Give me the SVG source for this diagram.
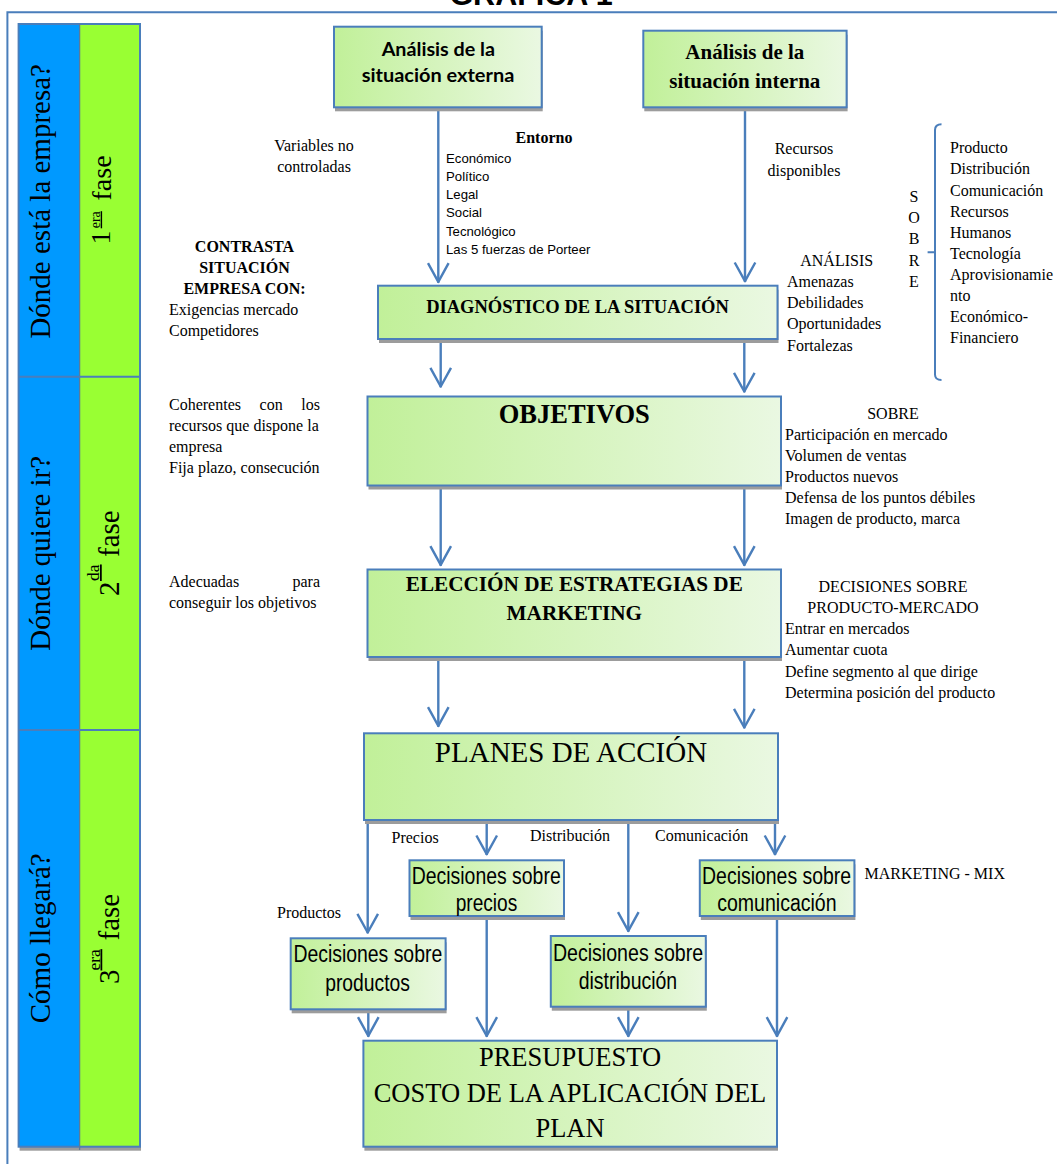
<svg xmlns="http://www.w3.org/2000/svg" width="1057" height="1164" viewBox="0 0 1057 1164">
<defs>
<linearGradient id="g" x1="0" y1="0" x2="1" y2="0">
<stop offset="0" stop-color="#c1f099"/>
<stop offset="1" stop-color="#eaf8e2"/>
</linearGradient>
<marker id="arr" markerUnits="userSpaceOnUse" markerWidth="30" markerHeight="30" viewBox="-25 -15 30 30" refX="0" refY="0" orient="auto" overflow="visible">
<path d="M-19.5,-10.3 L-0.8,0 L-19.5,10.3" fill="none" stroke="#4a7ebb" stroke-width="2.4" stroke-linejoin="round"/>
</marker>
<style>
.box{fill:url(#g);stroke:#4a7ebb;stroke-width:2}
.sh{fill:#9c9c9c}
.con{fill:none;stroke:#4a7ebb;stroke-width:2.4;marker-end:url(#arr)}
.t{font-family:"Liberation Serif","Times New Roman",serif;fill:#000}
.s16{font-size:16px}
.b{font-weight:bold}
.m{text-anchor:middle}
.e{text-anchor:end}
.a{font-family:"Liberation Sans",Arial,sans-serif}
.c{font-family:Lato,"Liberation Sans",sans-serif;font-weight:bold;font-size:19.5px}
.n{font-family:"Liberation Sans",Arial,sans-serif;font-size:23px}
</style>
</defs>
<rect width="1057" height="1164" fill="#fff"/>
<text x="531" y="5" class="a b m" style="font-size:30.5px">GRÁFICA 1</text>
<g id="frame" fill="none" stroke="#4a7ebb" stroke-width="2">
<path d="M1057,12.3 L7.4,12.3 L7.4,1164"/>
</g>
<g id="phases">
<rect x="19.6" y="28" width="121.4" height="1122.7" class="sh"/>
<rect x="18.6" y="24" width="61" height="1122.7" fill="#0099ff"/>
<rect x="79.6" y="24" width="60.4" height="1122.7" fill="#99ff33"/>
<rect x="18.6" y="24" width="121.4" height="1122.7" fill="none" stroke="#4a7ebb" stroke-width="2"/>
<line x1="79.6" y1="24" x2="79.6" y2="1150" stroke="#5d7a99" stroke-width="1.3"/>
<line x1="18.6" y1="376.7" x2="140" y2="376.7" stroke="#4a7ebb" stroke-width="2"/>
<line x1="18.6" y1="730" x2="140" y2="730" stroke="#4a7ebb" stroke-width="2"/>
<text class="t m" style="font-size:29px" transform="translate(49.7,201.3) rotate(-90)">Dónde está la empresa?</text>
<text class="t m" style="font-size:29px" transform="translate(49.7,553.3) rotate(-90)">Dónde quiere ir?</text>
<text class="t m" style="font-size:29px" transform="translate(49.7,938.3) rotate(-90)">Cómo llegará?</text>
<text class="t" style="font-size:28px" transform="translate(110,244.5) rotate(-90)">1</text>
<text class="t" style="font-size:14px" text-decoration="underline" transform="translate(99.7,228.3) rotate(-90)">era</text>
<text class="t" style="font-size:28px" transform="translate(110.5,200.5) rotate(-90)">fase</text>
<text class="t" style="font-size:29px" transform="translate(118.5,596) rotate(-90)">2</text>
<text class="t" style="font-size:17.5px" text-decoration="underline" transform="translate(99,581) rotate(-90)">da</text>
<text class="t" style="font-size:29px" transform="translate(118.5,557) rotate(-90)">fase</text>
<text class="t" style="font-size:29px" transform="translate(118.5,984) rotate(-90)">3</text>
<text class="t" style="font-size:17.5px" text-decoration="underline" transform="translate(99.5,970.5) rotate(-90)">era</text>
<text class="t" style="font-size:29px" transform="translate(118.5,940.5) rotate(-90)">fase</text>
</g>
<g id="connectors">
<line class="con" x1="438.3" y1="107.3" x2="438.3" y2="282.7"/>
<line class="con" x1="745" y1="107.3" x2="745" y2="282"/>
<line class="con" x1="440.7" y1="339" x2="440.7" y2="387.3"/>
<line class="con" x1="744.3" y1="339" x2="744.3" y2="392.3"/>
<line class="con" x1="440.7" y1="485.5" x2="440.7" y2="565.7"/>
<line class="con" x1="744.3" y1="485.5" x2="744.3" y2="565.7"/>
<line class="con" x1="438.3" y1="657" x2="438.3" y2="726.7"/>
<line class="con" x1="744.3" y1="657" x2="744.3" y2="728.3"/>
<line class="con" x1="367.7" y1="820" x2="367.7" y2="933.3"/>
<line class="con" x1="486.7" y1="820" x2="486.7" y2="855"/>
<line class="con" x1="628.3" y1="820" x2="628.3" y2="931.7"/>
<line class="con" x1="775" y1="820" x2="775" y2="855"/>
<line class="con" x1="368.3" y1="1009.3" x2="368.3" y2="1036.7"/>
<line class="con" x1="486.7" y1="916" x2="486.7" y2="1036.7"/>
<line class="con" x1="628.3" y1="1006.7" x2="628.3" y2="1036.7"/>
<line class="con" x1="777" y1="916" x2="777" y2="1036.7"/>
</g>
<g id="ext">
<rect x="335" y="30.7" width="207.7" height="80.6" class="sh"/>
<rect x="334" y="26.7" width="207.7" height="80.6" class="box"/>
<text class="c" x="381.7" y="56" textLength="113.3" lengthAdjust="spacingAndGlyphs">Análisis de la</text>
<text class="c" x="361.7" y="81.7" textLength="152.6" lengthAdjust="spacingAndGlyphs">situación externa</text>
</g>
<g id="int">
<rect x="644.3" y="34.7" width="203.3" height="76.6" class="sh"/>
<rect x="643.3" y="30.7" width="203.3" height="76.6" class="box"/>
<text class="t b m" style="font-size:21px" x="744.8" y="59.3">Análisis de la</text>
<text class="t b m" style="font-size:21px" x="744.8" y="88.3">situación interna</text>
</g>
<g id="diag">
<rect x="379" y="289.7" width="399.5" height="53.3" class="sh"/>
<rect x="378" y="285.7" width="399.5" height="53.3" class="box"/>
<text class="t b m" style="font-size:18.5px" x="577.5" y="313.3">DIAGNÓSTICO DE LA SITUACIÓN</text>
</g>
<g id="obj">
<rect x="368.5" y="400.5" width="413.5" height="89" class="sh"/>
<rect x="367.5" y="396.5" width="413.5" height="89" class="box"/>
<text class="t b m" style="font-size:26.5px" x="574.3" y="423.3">OBJETIVOS</text>
</g>
<g id="elec">
<rect x="368.5" y="573.5" width="413.5" height="87.5" class="sh"/>
<rect x="367.5" y="569.5" width="413.5" height="87.5" class="box"/>
<text class="t b m" style="font-size:21.2px" x="574.3" y="591">ELECCIÓN DE ESTRATEGIAS DE</text>
<text class="t b m" style="font-size:21.2px" x="574.3" y="620">MARKETING</text>
</g>
<g id="planes">
<rect x="365" y="737.3" width="414" height="86.7" class="sh"/>
<rect x="364" y="733.3" width="414" height="86.7" class="box"/>
<text class="t m" style="font-size:29px" x="571" y="761.7">PLANES DE ACCIÓN</text>
</g>
<g id="precios">
<rect x="410.5" y="864.3" width="154.5" height="55.7" class="sh"/>
<rect x="409.5" y="860.3" width="154.5" height="55.7" class="box"/>
<text class="n" x="411.7" y="884" textLength="149" lengthAdjust="spacingAndGlyphs">Decisiones sobre</text>
<text class="n" x="455.7" y="910.7" textLength="61.6" lengthAdjust="spacingAndGlyphs">precios</text>
</g>
<g id="comunicacion">
<rect x="700.8" y="864.3" width="154.6" height="55.7" class="sh"/>
<rect x="699.8" y="860.3" width="154.6" height="55.7" class="box"/>
<text class="n" x="702.1" y="884" textLength="149" lengthAdjust="spacingAndGlyphs">Decisiones sobre</text>
<text class="n" x="717.2" y="910.7" textLength="119.4" lengthAdjust="spacingAndGlyphs">comunicación</text>
</g>
<g id="productos">
<rect x="291.7" y="942.3" width="154.9" height="71" class="sh"/>
<rect x="290.7" y="938.3" width="154.9" height="71" class="box"/>
<text class="n" x="293.4" y="962.3" textLength="148.8" lengthAdjust="spacingAndGlyphs">Decisiones sobre</text>
<text class="n" x="325.2" y="990.7" textLength="84.8" lengthAdjust="spacingAndGlyphs">productos</text>
</g>
<g id="distribucion">
<rect x="551.8" y="940" width="155" height="70.7" class="sh"/>
<rect x="550.8" y="936" width="155" height="70.7" class="box"/>
<text class="n" x="552.9" y="960.7" textLength="150.2" lengthAdjust="spacingAndGlyphs">Decisiones sobre</text>
<text class="n" x="578.7" y="988.7" textLength="98.5" lengthAdjust="spacingAndGlyphs">distribución</text>
</g>
<g id="presupuesto">
<rect x="364.4" y="1044.7" width="413.6" height="106" class="sh"/>
<rect x="363.4" y="1040.7" width="413.6" height="106" class="box"/>
<text class="t m" style="font-size:26.5px" x="570" y="1066">PRESUPUESTO</text>
<text class="t m" style="font-size:26.5px" x="570" y="1101.7">COSTO DE LA APLICACIÓN DEL</text>
<text class="t m" style="font-size:26.5px" x="570" y="1136.7">PLAN</text>
</g>
<g id="notes" class="t s16">
<text class="m" x="314" y="150.5">Variables no</text>
<text class="m" x="314" y="172">controladas</text>
<text class="b m" x="544" y="143.3">Entorno</text>
<g class="a" style="font-size:13.2px">
<text x="446" y="162.5">Económico</text>
<text x="446" y="180.8">Político</text>
<text x="446" y="199.1">Legal</text>
<text x="446" y="217.4">Social</text>
<text x="446" y="235.7">Tecnológico</text>
<text x="446" y="254">Las 5 fuerzas de Porteer</text>
</g>
<text class="b m" x="244.5" y="252.3">CONTRASTA</text>
<text class="b m" x="244.5" y="273.3">SITUACIÓN</text>
<text class="b m" x="244.5" y="294">EMPRESA CON:</text>
<text x="169" y="315">Exigencias mercado</text>
<text x="169" y="336">Competidores</text>
<text class="m" x="804" y="154">Recursos</text>
<text class="m" x="804" y="176">disponibles</text>
<text class="m" x="836.7" y="265.7">ANÁLISIS</text>
<text x="787" y="286.7">Amenazas</text>
<text x="787" y="308">Debilidades</text>
<text x="787" y="329.3">Oportunidades</text>
<text x="787" y="350.6">Fortalezas</text>
<text class="m" x="914" y="201.7">S</text>
<text class="m" x="914" y="223">O</text>
<text class="m" x="914" y="244.2">B</text>
<text class="m" x="914" y="265.5">R</text>
<text class="m" x="914" y="286.7">E</text>
<path d="M941.5,124.3 Q935,124.3 935,130 L935,374.5 Q935,380 941.5,380 M935,252.3 L927.6,252.3" fill="none" stroke="#4a7ebb" stroke-width="2"/>
<text x="950" y="153.3">Producto</text>
<text x="950" y="174.4">Distribución</text>
<text x="950" y="195.5">Comunicación</text>
<text x="950" y="216.6">Recursos</text>
<text x="950" y="237.7">Humanos</text>
<text x="950" y="258.8">Tecnología</text>
<text x="950" y="279.9">Aprovisionamie</text>
<text x="950" y="301">nto</text>
<text x="950" y="322.1">Económico-</text>
<text x="950" y="343.2">Financiero</text>
<text x="169" y="410">Coherentes</text>
<text x="259.6" y="410">con</text>
<text class="e" x="320" y="410">los</text>
<text x="169" y="431">recursos que dispone la</text>
<text x="169" y="451.7">empresa</text>
<text x="169" y="473.3">Fija plazo, consecución</text>
<text class="m" x="893" y="419">SOBRE</text>
<text x="785" y="440">Participación en mercado</text>
<text x="785" y="461.1">Volumen de ventas</text>
<text x="785" y="482.2">Productos nuevos</text>
<text x="785" y="503.3">Defensa de los puntos débiles</text>
<text x="785" y="524.4">Imagen de producto, marca</text>
<text x="169" y="587.3">Adecuadas</text>
<text class="e" x="320" y="587.3">para</text>
<text x="169" y="608.3">conseguir los objetivos</text>
<text class="m" x="893" y="592.3">DECISIONES SOBRE</text>
<text class="m" x="893" y="613.3">PRODUCTO-MERCADO</text>
<text x="785" y="634.3">Entrar en mercados</text>
<text x="785" y="655.4">Aumentar cuota</text>
<text x="785" y="676.5">Define segmento al que dirige</text>
<text x="785" y="697.6">Determina posición del producto</text>
<text x="391.5" y="842.5">Precios</text>
<text x="530" y="840.5">Distribución</text>
<text x="655" y="840.5">Comunicación</text>
<text x="277" y="918.3">Productos</text>
<text x="864.5" y="879">MARKETING - MIX</text>
</g>
</svg>
